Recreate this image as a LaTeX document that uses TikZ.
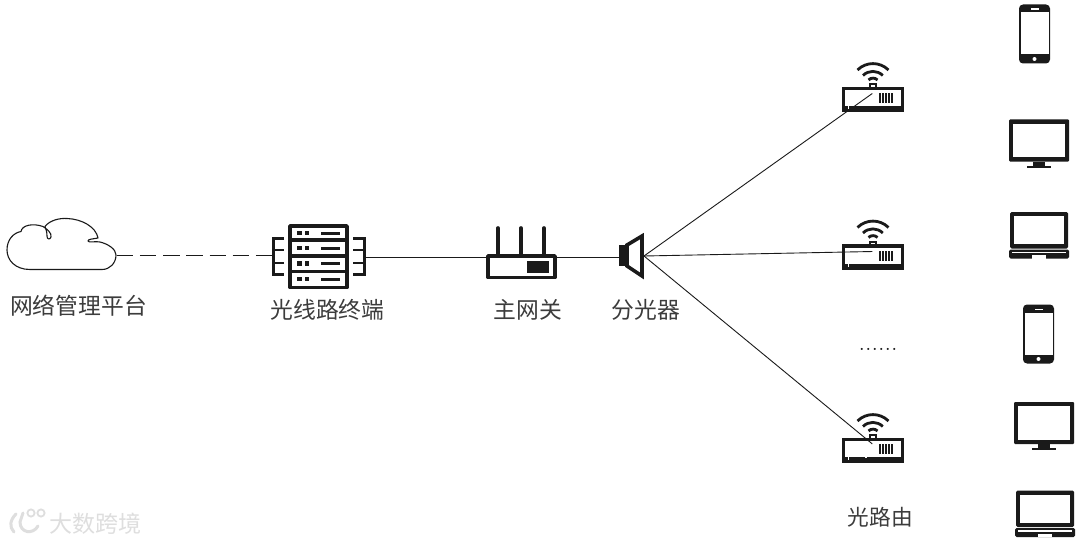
\documentclass[tikz,border=0pt]{standalone}
\usepackage{fontspec}
\newfontfamily\cjk{Noto Sans CJK SC}
\definecolor{ink}{HTML}{1A1A1A}
\definecolor{wm}{HTML}{DEDEDE}
\tikzset{
  x=1pt,y=-1pt,
  lbl/.style={font=\cjk\fontsize{22.8}{25}\selectfont,text=ink!85,inner sep=0pt},
  lbls/.style={font=\cjk\fontsize{21.7}{24}\selectfont,text=ink!85,inner sep=0pt},
  anchorbox/.style={inner sep=0pt,minimum size=1pt},
  link/.style={draw=ink,line width=0.9pt},
  heavy/.style={draw=ink,line width=3.4pt,line join=round},
  cloudline/.style={draw=ink,line width=1.1pt,line join=round},
  routerpic/.pic={
    \draw[ink,line width=2.8pt] (-4.5,-19.5) arc[start angle=-135,end angle=-45,radius=6.4];
    \draw[ink,line width=2.8pt] (-10,-24) arc[start angle=-135,end angle=-45,radius=14];
    \draw[ink,line width=2.8pt] (-15.5,-29.5) arc[start angle=-135,end angle=-45,radius=21.9];
    \fill[ink] (-4,-16.5) rectangle (4,-11);
    \fill[white] (-1.6,-14.5) rectangle (1.6,-12.5);
    \draw[ink,line width=3.2pt] (-29.5,-11) rectangle (29.5,11);
    \fill[ink] (-29,6.5) rectangle (29,9.5);
    \fill[white] (-25.5,6.5) rectangle (-24,9.5);
    \fill[white] (-8.5,3) rectangle (-6.5,7);
    \foreach \i in {0,1,2,3,4}{\fill[ink] (6+\i*3,-6.5) rectangle (8+\i*3,3.5);}
  },
  phonepic/.pic={
    \fill[ink,rounded corners=4pt] (-15.5,-29.5) rectangle (15.5,29.5);
    \fill[white] (-14,-21.5) rectangle (14,20.5);
    \fill[white] (-4,-25.5) rectangle (4,-24);
    \fill[white] (0,25) circle (2);
  },
  monitorpic/.pic={
    \fill[ink,rounded corners=1pt] (-30,-21) rectangle (30,21);
    \fill[white] (-26,-17) rectangle (26,16.5);
    \fill[ink] (-6,21) rectangle (6,25);
    \fill[ink] (-12,25) rectangle (12,27);
  },
  laptoppic/.pic={
    \fill[ink,rounded corners=1.5pt] (-29,-23) rectangle (29,13.5);
    \fill[white] (-25,-19) rectangle (25,9);
    \fill[ink,rounded corners=1.5pt] (-30,14.5) rectangle (30,23.5);
    \fill[white] (-27,16.5) rectangle (27,18);
    \fill[white] (-7,20) rectangle (7,23.5);
  },
}
\begin{document}
\begin{tikzpicture}
\useasboundingbox (0,0) rectangle (1080,543);
\fill[white] (0,0) rectangle (1080,543);

% cloud
\node[anchorbox] (cloud) at (116,255) {};
\draw[cloudline] (30,269.5) .. controls (15,269.5) and (7,260) .. (7,250)
  .. controls (7,240) and (13,233) .. (21,231.5)
  .. controls (22,225) and (33,223) .. (43,226.5)
  .. controls (47,229) and (52,233) .. (51,237)
  .. controls (50,240) and (47,239.5) .. (47,236)
  .. controls (47,232) and (46,229) .. (45,226.5)
  .. controls (50,220) and (60,218) .. (67,218.5)
  .. controls (82,219) and (96,227) .. (98,238)
  .. controls (93,239) and (88,239) .. (88,241)
  .. controls (88,243) and (96,241) .. (100,242)
  .. controls (108,244) and (116,249) .. (116,255)
  .. controls (116,263) and (110,269.5) .. (102,269.5)
  -- cycle;

% server
\node[anchorbox,minimum width=92pt,minimum height=64pt] (olt) at (318.5,257) {};
\draw[heavy] (290,226) rectangle (347,287.5);
\foreach \y in {240,256,271.5}{\draw[ink,line width=3.2pt] (290,\y) -- (347,\y);}
\foreach \y in {233,248,263.5,279}{
  \fill[ink] (297,\y-2.4) rectangle (301.5,\y+2.4);
  \fill[ink] (304.5,\y-2.4) rectangle (309,\y+2.4);
  \fill[ink] (321,\y-1.5) rectangle (340,\y+1.5);
}
\draw[ink,line width=3pt,line join=miter] (284,238) -- (273,238) -- (273,274.5) -- (284,274.5);
\draw[ink,line width=2.6pt] (273,250) -- (284,250) (273,263) -- (284,263);
\draw[ink,line width=3pt,line join=miter] (353,238) -- (364,238) -- (364,274.5) -- (353,274.5);
\draw[ink,line width=2.6pt] (364,250) -- (353,250) (364,263) -- (353,263);

% gateway
\node[anchorbox,minimum width=70pt,minimum height=23pt] (gw) at (521.5,266.5) {};
\foreach \x in {498,521,544}{\draw[ink,line width=3.6pt,line cap=round] (\x,228) -- (\x,255);}
\draw[heavy] (488,256) rectangle (555,277.5);
\fill[ink] (527,261) rectangle (549,273);

% splitter
\node[anchorbox,minimum width=24pt,minimum height=42pt] (split) at (631,256) {};
\coordinate (fan) at (644,256);
\fill[ink] (619,245) rectangle (627,266);
\draw[ink,line width=3.6pt,line join=miter] (627,245) -- (642,236) -- (642,276) -- (627,266) -- cycle;

% routers
\pic at (873,99.5) {routerpic};
\pic at (873,257) {routerpic};
\pic at (873,450.5) {routerpic};
\node[anchorbox] (r1) at (873,93) {};
\node[anchorbox] (r2) at (873,251.5) {};
\node[anchorbox] (r3) at (873,444.5) {};

% connectors
\draw[link,dash pattern=on 16.5pt off 6.7pt] (cloud) -- (olt.west |- cloud);
\draw[link] (olt.east |- 0,257.4) -- (gw.west |- 0,257.4);
\draw[link] (gw.east |- 0,257.4) -- (split.west |- 0,257.4);
\draw[link] (fan) -- (r1);
\draw[link] (fan) -- (r2);
\draw[link] (fan) -- (r3);

% end devices
\pic at (1034.5,34) {phonepic};
\pic at (1039,140.5) {monitorpic};
\pic at (1039,235) {laptoppic};
\pic at (1038.5,334) {phonepic};
\pic at (1044,423) {monitorpic};
\pic at (1045,513.5) {laptoppic};

% labels
\node[lbl] (t1) at (78.5,306) {\cjk 网络管理平台};
\node[lbl] (t2) at (327.5,310) {\cjk 光线路终端};
\node[lbl] (t3) at (528,310) {\cjk 主网关};
\node[lbl] (t4) at (646,310) {\cjk 分光器};
\node[lbls] (t5) at (880.5,517) {\cjk 光路由};
\node[font=\fontsize{26}{28}\selectfont,text=ink,inner sep=0pt] (dots) at (878,349) {......};

% watermark
\draw[wm,line width=3pt,line cap=round] (16,514) .. controls (10,520) and (9,527) .. (14,532);
\draw[wm,line width=3pt,line cap=round] (23,513) -- (20,522) .. controls (20,533) and (33,535) .. (38,526);
\draw[wm,line width=1.8pt] (31,513) circle (3.6);
\draw[wm,line width=1.8pt] (41,513) circle (3.6);
\node[font=\cjk\fontsize{23}{25}\selectfont,text=wm,inner sep=0pt] (wmt) at (95,524) {\cjk 大数跨境};
\end{tikzpicture}
\end{document}
